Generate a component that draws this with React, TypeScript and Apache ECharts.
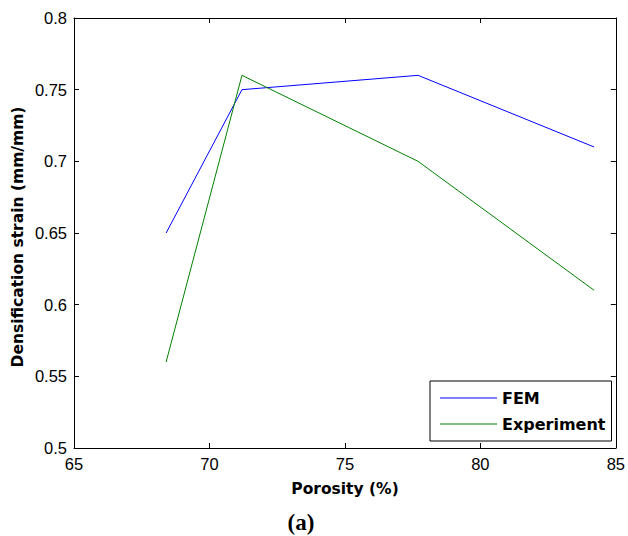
import React, { useEffect, useRef } from "react";
import * as echarts from "echarts";

const porosityFEM = [68.4, 71.2, 77.7, 84.2];
const strainFEM = [0.65, 0.75, 0.76, 0.71];
const porosityExp = [68.4, 71.2, 77.7, 84.2];
const strainExp = [0.56, 0.76, 0.7, 0.61];
const seriesNames = ["FEM", "Experiment"];
const xTitle = "Porosity (%)";
const yTitle = "Densification strain (mm/mm)";
const caption = "(a)";

const tickFont = "'Liberation Sans', Arial, sans-serif";
const boldFont = "'DejaVu Sans', 'Liberation Sans', Arial, sans-serif";

export default function App() {
  const ref = useRef<HTMLDivElement>(null);
  useEffect(() => {
    if (!ref.current) return;
    const chart = echarts.init(ref.current, null, { renderer: "svg" });
    const axisLine = { show: true, lineStyle: { color: "#000", width: 1 } };
    const tick = { show: true, inside: true, length: 5, lineStyle: { color: "#000" } };
    const label = { color: "#000", fontFamily: tickFont, fontSize: 16.5 };
    chart.setOption({
      animation: false,
      backgroundColor: "#fff",
      grid: { left: 74, right: 7, top: 18, bottom: 88, containLabel: false },
      xAxis: [
        {
          type: "value", min: 65, max: 85, interval: 5, position: "bottom",
          axisLine, axisTick: tick, splitLine: { show: false },
          axisLabel: { ...label, margin: 7 },
        },
        {
          type: "value", min: 65, max: 85, interval: 5, position: "top",
          axisLine, axisTick: tick, splitLine: { show: false },
          axisLabel: { show: false },
        },
      ],
      yAxis: [
        {
          type: "value", min: 0.5, max: 0.8, interval: 0.05, position: "left",
          axisLine, axisTick: tick, splitLine: { show: false },
          axisLabel: { ...label, margin: 7 },
        },
        {
          type: "value", min: 0.5, max: 0.8, interval: 0.05, position: "right",
          axisLine, axisTick: tick, splitLine: { show: false },
          axisLabel: { show: false },
        },
      ],
      legend: {
        left: 430, top: 381,
        orient: "vertical",
        data: seriesNames.map((n) => ({ name: n, icon: "rect" })),
        itemWidth: 57, itemHeight: 1.2, itemGap: 10,
        padding: [9, 6, 9, 10],
        borderColor: "#000", borderWidth: 1, backgroundColor: "#fff",
        textStyle: { color: "#000", fontFamily: boldFont, fontWeight: "bold", fontSize: 16, padding: [0, 0, 0, 0] },
      },
      graphic: [
        {
          type: "text", x: 345, y: 489,
          style: { text: xTitle, fontFamily: boldFont, fontWeight: "bold", fontSize: 15.5, fill: "#000", align: "center", verticalAlign: "middle" },
        },
        {
          type: "text", x: 18, y: 237, rotation: Math.PI / 2,
          style: { text: yTitle, fontFamily: boldFont, fontWeight: "bold", fontSize: 15.5, fill: "#000", align: "center", verticalAlign: "middle" },
        },
        {
          type: "text", x: 301, y: 522,
          style: { text: caption, fontFamily: "'Liberation Serif', 'Times New Roman', serif", fontWeight: "bold", fontSize: 23, fill: "#000", align: "center", verticalAlign: "middle" },
        },
      ],
      series: [
        {
          name: seriesNames[0], type: "line", showSymbol: false, symbol: "none",
          data: porosityFEM.map((x, i) => [x, strainFEM[i]]),
          lineStyle: { color: "#0000ff", width: 1 }, itemStyle: { color: "#0000ff" },
        },
        {
          name: seriesNames[1], type: "line", showSymbol: false, symbol: "none",
          data: porosityExp.map((x, i) => [x, strainExp[i]]),
          lineStyle: { color: "#008000", width: 1 }, itemStyle: { color: "#008000" },
        },
      ],
    });
    return () => chart.dispose();
  }, []);
  return <div ref={ref} style={{ width: 628, height: 536, position: "absolute", left: 0, top: 0 }} />;
}
